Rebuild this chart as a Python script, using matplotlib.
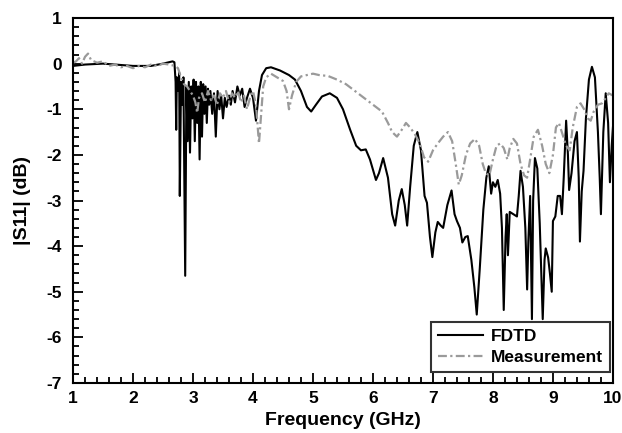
import numpy as np
import matplotlib
matplotlib.use('Agg')
import matplotlib.pyplot as plt
from matplotlib.ticker import MultipleLocator

plt.rcParams['font.family'] = ['Liberation Sans', 'DejaVu Sans']
plt.rcParams['font.weight'] = 'bold'
plt.rcParams['axes.unicode_minus'] = False

# FDTD simulated |S11|
fdtd_f = [1.00, 1.20, 1.50, 1.80, 2.00, 2.30, 2.50, 2.60, 2.66, 2.69, 2.71, 2.72, 2.73,
          2.75, 2.77, 2.78, 2.80, 2.82, 2.84, 2.87, 2.89, 2.91, 2.93, 2.95, 2.97, 2.99,
          3.01, 3.03, 3.05, 3.07, 3.09, 3.11, 3.13, 3.15, 3.17, 3.19, 3.21, 3.23, 3.25,
          3.27, 3.29, 3.32, 3.35, 3.38, 3.41, 3.44, 3.47, 3.50, 3.53, 3.56, 3.60, 3.63,
          3.66, 3.70, 3.74, 3.78, 3.82, 3.86, 3.90, 3.95, 4.00, 4.05, 4.10, 4.15, 4.22,
          4.30, 4.45, 4.60, 4.70, 4.80, 4.90, 4.97, 5.05, 5.15, 5.28, 5.40, 5.50, 5.62,
          5.72, 5.80, 5.88, 5.95, 6.05, 6.10, 6.17, 6.25, 6.32, 6.37, 6.43, 6.48, 6.53,
          6.57, 6.62, 6.68, 6.74, 6.80, 6.86, 6.90, 6.95, 6.99, 7.04, 7.08, 7.13, 7.17,
          7.24, 7.31, 7.36, 7.40, 7.45, 7.49, 7.54, 7.58, 7.64, 7.69, 7.73, 7.78, 7.84,
          7.89, 7.93, 7.97, 8.00, 8.04, 8.08, 8.12, 8.15, 8.18, 8.21, 8.23, 8.25, 8.28,
          8.34, 8.40, 8.43, 8.46, 8.50, 8.54, 8.57, 8.59, 8.62, 8.65, 8.67, 8.70, 8.74,
          8.78, 8.83, 8.86, 8.88, 8.92, 8.95, 8.98, 9.00, 9.04, 9.08, 9.12, 9.15, 9.18,
          9.22, 9.25, 9.27, 9.31, 9.36, 9.40, 9.43, 9.45, 9.48, 9.51, 9.55, 9.60, 9.65,
          9.70, 9.75, 9.78, 9.80, 9.84, 9.88, 9.92, 9.95, 9.98, 10.00]
fdtd_db = [-0.05, -0.02, 0.0, -0.03, -0.05, -0.05, 0.0, 0.03, 0.05, 0.03, -0.4, -1.45, -0.3,
           -0.6, -0.2, -2.9, -0.4, -0.9, -0.3, -4.65, -0.5, -1.7, -0.4, -1.95, -0.5, -1.2,
           -0.35, -1.7, -0.4, -1.3, -0.5, -2.1, -0.4, -1.6, -0.45, -1.1, -0.5, -1.3, -0.55,
           -0.9, -0.6, -1.1, -0.65, -1.6, -0.6, -1.0, -0.7, -1.2, -0.75, -0.95, -0.7, -0.9,
           -0.6, -0.85, -0.5, -0.7, -0.55, -0.95, -0.75, -0.55, -0.75, -1.25, -0.6, -0.25, -0.1,
           -0.08, -0.15, -0.25, -0.35, -0.6, -0.95, -1.05, -0.9, -0.72, -0.65, -0.75, -1.0, -1.45,
           -1.8, -1.9, -1.88, -2.1, -2.55, -2.4, -2.07, -2.5, -3.3, -3.55, -3.0, -2.75, -3.1,
           -3.55, -2.7, -1.8, -1.5, -1.9, -2.9, -3.05, -3.8, -4.24, -3.7, -3.47, -3.55, -3.6,
           -3.1, -2.78, -3.3, -3.45, -3.6, -3.92, -3.8, -3.78, -4.3, -4.9, -5.5, -4.5, -3.2,
           -2.5, -2.25, -2.85, -2.6, -2.7, -2.55, -2.85, -3.6, -5.4, -3.8, -3.3, -4.2, -3.25,
           -3.3, -3.35, -2.9, -2.35, -2.7, -3.6, -4.95, -3.9, -2.9, -5.6, -3.0, -2.07, -2.3,
           -3.5, -5.6, -4.3, -4.05, -4.25, -4.6, -5.0, -3.45, -3.35, -2.9, -2.9, -3.3, -2.5,
           -1.25, -2.0, -2.77, -2.4, -1.7, -1.5, -2.5, -3.9, -2.8, -2.35, -1.2, -0.35, -0.07,
           -0.3, -1.5, -2.5, -3.3, -1.5, -0.65, -1.3, -2.6, -1.8, -1.4]

# measured |S11|
meas_f = [1.00, 1.05, 1.10, 1.15, 1.20, 1.25, 1.30, 1.40, 1.50, 1.60, 1.70, 1.80, 1.90,
          2.00, 2.10, 2.20, 2.30, 2.40, 2.50, 2.60, 2.70, 2.75, 2.80, 2.85, 2.90, 2.95,
          3.00, 3.04, 3.07, 3.10, 3.15, 3.20, 3.25, 3.30, 3.35, 3.40, 3.45, 3.50, 3.55,
          3.60, 3.65, 3.70, 3.75, 3.80, 3.85, 3.90, 3.95, 4.00, 4.05, 4.10, 4.13, 4.17,
          4.22, 4.30, 4.40, 4.50, 4.56, 4.60, 4.65, 4.72, 4.80, 4.90, 5.00, 5.10, 5.25,
          5.40, 5.55, 5.70, 5.85, 6.00, 6.15, 6.25, 6.32, 6.40, 6.48, 6.55, 6.62, 6.70,
          6.78, 6.85, 6.92, 7.00, 7.08, 7.17, 7.25, 7.32, 7.38, 7.43, 7.48, 7.55, 7.62,
          7.70, 7.77, 7.83, 7.88, 7.94, 8.00, 8.06, 8.12, 8.18, 8.24, 8.28, 8.34, 8.40,
          8.46, 8.52, 8.57, 8.62, 8.68, 8.75, 8.82, 8.88, 8.94, 9.00, 9.05, 9.10, 9.16,
          9.22, 9.28, 9.33, 9.40, 9.46, 9.52, 9.58, 9.63, 9.68, 9.75, 9.82, 9.88, 9.93, 10.00]
meas_db = [0.02, 0.05, 0.12, 0.0, 0.15, 0.22, 0.08, 0.02, 0.05, -0.05, -0.02, -0.08, -0.05,
           -0.1, -0.05, -0.08, -0.02, -0.05, 0.0, -0.02, -0.05, -0.1, -0.3, -0.45, -0.5, -0.6,
           -0.7, -0.85, -1.08, -0.75, -0.65, -0.85, -0.6, -0.8, -0.7, -0.9, -0.65, -0.75, -0.6,
           -0.85, -0.65, -0.75, -0.6, -0.85, -0.7, -1.0, -0.75, -0.6, -0.9, -1.75, -1.2, -0.5,
           -0.3, -0.22, -0.3, -0.38, -0.6, -1.0, -0.7, -0.4, -0.28, -0.25, -0.22, -0.25, -0.27,
           -0.35, -0.45, -0.6, -0.75, -0.9, -1.05, -1.3, -1.5, -1.6, -1.45, -1.3, -1.4, -1.55,
           -1.75, -2.05, -2.15, -1.9, -1.75, -1.6, -1.5, -1.7, -2.2, -2.65, -2.45, -2.0, -1.75,
           -1.65, -1.8, -2.2, -2.4, -2.45, -2.1, -1.8, -1.75, -1.85, -2.1, -1.85, -1.65, -1.75,
           -2.2, -2.45, -2.5, -2.1, -1.6, -1.45, -1.8, -2.2, -2.4, -2.0, -1.4, -1.3, -1.55,
           -1.8, -1.9, -1.4, -0.95, -0.87, -1.0, -1.2, -1.25, -1.05, -0.9, -0.87, -0.75, -0.65, -0.7]

fig = plt.figure(figsize=(6.22, 4.33), dpi=100)
ax = fig.add_axes([0.1174, 0.1155, 0.868, 0.8429])

ax.plot(fdtd_f, fdtd_db, color='k', lw=1.5, label='FDTD')
ax.plot(meas_f, meas_db, color='#9a9a9a', lw=1.6, dashes=(4, 1.5, 1, 1.5), label='Measurement')

ax.set_xlim(1, 10)
ax.set_ylim(-7, 1)
ax.xaxis.set_major_locator(MultipleLocator(1))
ax.xaxis.set_minor_locator(MultipleLocator(0.2))
ax.yaxis.set_major_locator(MultipleLocator(1))
ax.yaxis.set_minor_locator(MultipleLocator(0.2))
ax.tick_params(which='both', direction='in', top=False, right=False, width=1.3, labelsize=12.5)
ax.tick_params(which='major', length=7)
ax.tick_params(axis='x', which='major', pad=6)
ax.tick_params(axis='y', which='major', pad=8)
ax.tick_params(which='minor', length=4)
for s in ax.spines.values():
    s.set_linewidth(1.5)

ax.set_xlabel('Frequency (GHz)', fontsize=14, fontweight='bold', labelpad=4)
ax.set_ylabel('|S11| (dB)', fontsize=14, fontweight='bold', labelpad=11)

leg = ax.legend(loc='lower right', bbox_to_anchor=(0.9944, 0.0301), fontsize=12.5,
                frameon=True, fancybox=False, borderaxespad=0, handlelength=2.6,
                borderpad=0.4, labelspacing=0.35, handletextpad=0.45)
leg.get_frame().set_edgecolor('k')
leg.get_frame().set_linewidth(1.5)
for t in leg.get_texts():
    t.set_fontweight('bold')

fig.savefig('out.png', dpi=100)
